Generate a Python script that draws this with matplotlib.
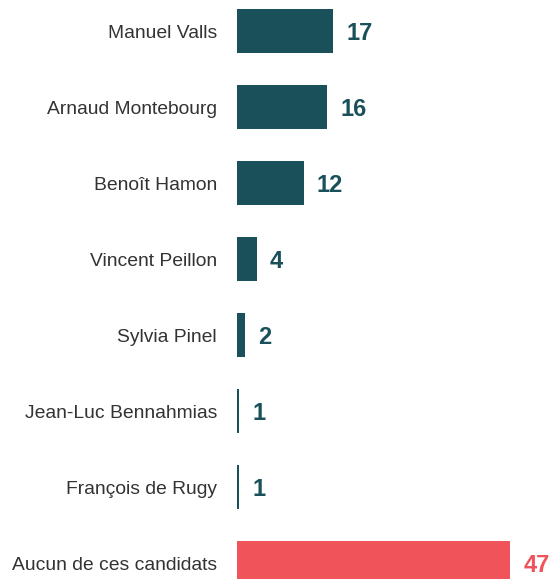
import matplotlib.pyplot as plt

# Data
names = ['Manuel Valls', 'Arnaud Montebourg', 'Benoît Hamon', 'Vincent Peillon',
         'Sylvia Pinel', 'Jean-Luc Bennahmias', 'François de Rugy',
         'Aucun de ces candidats']
values = [17, 16, 12, 4, 2, 1, 1, 47]
teal = '#19505a'
red = '#f0545a'
colors = [teal] * 7 + [red]

plt.rcParams['font.family'] = ['Liberation Sans', 'DejaVu Sans']

fig = plt.figure(figsize=(5.54, 5.79), dpi=100)
ax = fig.add_axes([237 / 554, 0, 317 / 554, 1])

ypos = list(range(len(names)))
ax.barh(ypos, values, height=0.58, color=colors, edgecolor='none')

# pixel-based scale: ~5.9 px per unit, 76 px per row, axis starts a bit above 0
x0 = 0.68
ax.set_xlim(x0, x0 + 317 / 5.9)
ax.set_ylim(579 / 76 - 0.412, -0.412)

for y, v, c, n in zip(ypos, values, colors, names):
    ax.annotate(str(v), (v, y), xytext=(9.5, 0), textcoords='offset points',
                va='center_baseline', ha='left', fontsize=17, fontweight='bold',
                color=c, annotation_clip=False)
    ax.annotate(n, (x0, y), xytext=(-14.4, 0), textcoords='offset points',
                va='center_baseline', ha='right', fontsize=13.9, color='#333333',
                annotation_clip=False)

ax.axis('off')
fig.savefig('out.png', dpi=100)
